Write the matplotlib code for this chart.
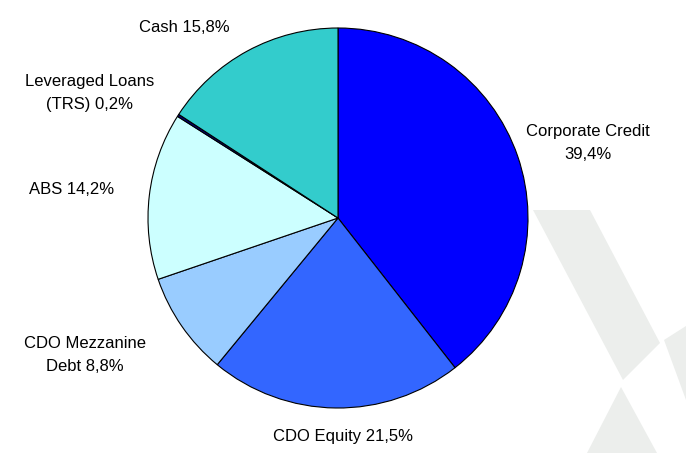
import matplotlib
matplotlib.use("Agg")
import matplotlib.pyplot as plt
from matplotlib.patches import Polygon
from matplotlib.transforms import Affine2D

categories = ["Corporate Credit", "CDO Equity", "CDO Mezzanine Debt", "ABS",
              "Leveraged Loans (TRS)", "Cash"]
values = [39.4, 21.5, 8.8, 14.2, 0.2, 15.8]
label_texts = ["Corporate Credit\n39,4%", "CDO Equity 21,5%", "CDO Mezzanine\nDebt 8,8%",
               "ABS 14,2%", "Leveraged Loans\n(TRS) 0,2%", "Cash 15,8%"]
colors = ["#0000FF", "#3366FF", "#99CCFF", "#CCFFFF", "#000080", "#33CCCC"]

W, H = 686, 453
CX, CY, R = 338, 218, 190

fig = plt.figure(figsize=(W / 100, H / 100), dpi=100)
fig.patch.set_facecolor("white")

# faint watermark in pixel coords (top-left origin)
pix = Affine2D().scale(1.0 / W, -1.0 / H).translate(0, 1) + fig.transFigure
wm = "#eceeec"
shapes = [
    [(533, 210), (590, 210), (660, 343), (623, 380)],
    [(664, 340), (686, 326), (686, 400)],
    [(621, 387), (657, 453), (587, 453)],
]
for s in shapes:
    fig.patches.append(Polygon(s, closed=True, facecolor=wm, edgecolor="none",
                               transform=pix, zorder=0))

ax = fig.add_axes([0, 0, 1, 1])
ax.axis("off")
ax.patch.set_alpha(0)

ax.pie(values, colors=colors, startangle=90, counterclock=False,
       wedgeprops=dict(edgecolor="black", linewidth=0.8), radius=1.0)
ax.set_aspect("auto")
ax.set_xlim((0 - CX) / R, (W - CX) / R)
ax.set_ylim((CY - H) / R, CY / R)

label_pos = {
    "Corporate Credit": (588, 143),
    "CDO Equity": (343, 437),
    "CDO Mezzanine Debt": (85, 355),
    "ABS": (72, 189),
    "Leveraged Loans (TRS)": (90, 93),
    "Cash": (184, 28),
}
for cat, txt in zip(categories, label_texts):
    px, py = label_pos[cat]
    ax.text((px - CX) / R, (CY - py) / R, txt, ha="center", va="center",
            fontsize=12, family=["Liberation Sans", "DejaVu Sans"],
            linespacing=1.6, color="black")

fig.savefig("out.png", dpi=100, facecolor="white")
